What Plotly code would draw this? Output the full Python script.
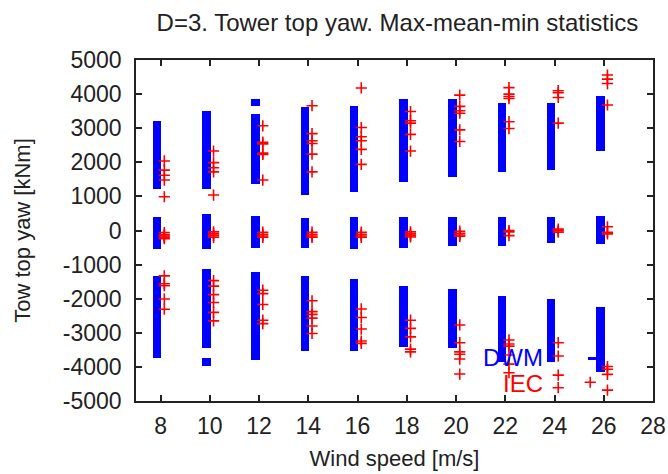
import plotly.graph_objects as go

# ---------------- data ----------------
wind_speeds = [8, 10, 12, 14, 16, 18, 20, 22, 24, 26]

# DWM: vertical extents of the dense point clouds (max, mean, min statistics)
dwm_max_lo = [1210, 1220, 1350, 1030, 1130, 1420, 1570, 1715, 1765, 2330]
dwm_max_hi = [3220, 3490, 3410, 3610, 3640, 3870, 3870, 3725, 3725, 3930]
dwm_mean_lo = [-550, -550, -520, -520, -550, -520, -455, -455, -375, -405]
dwm_mean_hi = [390, 475, 435, 375, 390, 390, 390, 390, 390, 435]
dwm_min_lo = [-3750, -3455, -3800, -3525, -3525, -3410, -3455, -3850, -3855, -4140]
dwm_min_hi = [-1325, -1140, -1225, -1325, -1420, -1620, -1715, -1910, -2010, -2235]
# isolated DWM clusters
dwm_extra_ws = [12, 10, 25.67]
dwm_extra_lo = [3650, -3975, -3800]
dwm_extra_hi = [3870, -3750, -3700]

# IEC: individual max / mean / min values per wind speed
iec_max = {
    8: [2040, 1770, 1620, 1480, 990],
    10: [2330, 1990, 1840, 1720, 1040],
    12: [3070, 2590, 2540, 2270, 2230, 1480],
    14: [3660, 2840, 2630, 2550, 2240, 1720],
    16: [4180, 3020, 2750, 2630, 2380, 1940],
    18: [3490, 3220, 3150, 2820, 2330],
    20: [3970, 3640, 3510, 3440, 2950, 2610],
    22: [4190, 4000, 3930, 3870, 3190, 2990],
    24: [4100, 4040, 3900, 3150],
    26: [4560, 4440, 4310, 3680],
}
iec_mean = {
    8: [-60, -120, -160, -200, -240],
    10: [-40, -100, -150, -200],
    12: [-50, -110, -160, -200],
    14: [-50, -110, -160, -200],
    16: [-50, -110, -160, -200],
    18: [-40, -100, -150, -190],
    20: [-20, -80, -130, -170],
    22: [0, -40, -150],
    24: [40, -10, -50],
    26: [110, -50, -100],
}
iec_min = {
    8: [-1330, -1560, -1620, -2010, -2310],
    10: [-1470, -1630, -1880, -2110, -2400, -2650],
    12: [-1750, -1850, -2170, -2630, -2730],
    14: [-2060, -2380, -2460, -2570, -2800, -3020],
    16: [-2300, -2550, -2890, -3240, -3310],
    18: [-2630, -2870, -3120, -3480, -3560],
    20: [-2770, -3290, -3560, -3630, -3770, -4210],
    22: [-3210, -3330, -3390, -3650, -3920, -4170],
    24: [-3290, -3680, -4240, -4610],
    26: [-3990, -4070, -4220, -4680],
}
iec_extra_ws = [25.45]
iec_extra_val = [-4450]

x_ticks = [8, 10, 12, 14, 16, 18, 20, 22, 24, 26, 28]
y_ticks = [5000, 4000, 3000, 2000, 1000, 0, -1000, -2000, -3000, -4000, -5000]
y_tick_labels = ["5000", "4000", "3000", "2000", "1000", "0",
                 "-1000", "-2000", "-3000", "-4000", "-5000"]

title_text = "D=3. Tower top yaw. Max-mean-min statistics"
x_title = "Wind speed [m/s]"
y_title = "Tow top yaw [kNm]"

# ---------------- styles ----------------
BLUE = "#0000ff"
RED = "#ff0000"
FONT = "Liberation Sans, Arial, sans-serif"
TXT = "#222222"
BAR_OFFSET = -0.31
BAR_WIDTH = 0.34
IEC_SHIFT = 0.15

# ---------------- build ----------------
seg_ws, seg_lo, seg_hi = [], [], []
for lo_list, hi_list in [(dwm_max_lo, dwm_max_hi), (dwm_mean_lo, dwm_mean_hi),
                         (dwm_min_lo, dwm_min_hi)]:
    seg_ws += wind_speeds
    seg_lo += lo_list
    seg_hi += hi_list
seg_ws += dwm_extra_ws
seg_lo += dwm_extra_lo
seg_hi += dwm_extra_hi

iec_x, iec_y = [], []
for d in (iec_max, iec_mean, iec_min):
    for ws in wind_speeds:
        vals = d[ws]
        iec_x += [ws + IEC_SHIFT] * len(vals)
        iec_y += vals
iec_x += iec_extra_ws
iec_y += iec_extra_val

fig = go.Figure()
fig.add_trace(go.Bar(
    x=seg_ws, base=seg_lo, y=[h - l for l, h in zip(seg_lo, seg_hi)],
    width=BAR_WIDTH, offset=BAR_OFFSET,
    marker=dict(color=BLUE, line=dict(width=0)),
    name="DWM", showlegend=False,
))
fig.add_trace(go.Scatter(
    x=iec_x, y=iec_y, mode="markers",
    marker=dict(symbol="cross-thin-open", size=8, color=RED,
                line=dict(color=RED, width=1.6)),
    name="IEC", showlegend=False,
))

axis_common = dict(
    showgrid=False, zeroline=False, showline=True, linecolor="#222222",
    linewidth=1.5, mirror="ticks", ticks="inside", ticklen=6,
    tickwidth=1.5, tickcolor="#222222", automargin=False,
    tickfont=dict(family=FONT, size=23, color=TXT),
)

fig.update_layout(
    width=668, height=474,
    margin=dict(l=136, r=15, t=60, b=73, autoexpand=False),
    paper_bgcolor="white", plot_bgcolor="white",
    barmode="overlay", bargap=0,
    title=dict(text=title_text, x=0.595, xanchor="center", y=0.953,
               yanchor="middle", font=dict(family=FONT, size=24, color=TXT)),
    xaxis=dict(range=[7, 28], tickvals=x_ticks, ticklabelstandoff=4,
               title=dict(text=x_title, font=dict(family=FONT, size=22, color=TXT),
                          standoff=12),
               **axis_common),
    yaxis=dict(range=[-5000, 5000], tickvals=y_ticks, ticktext=y_tick_labels,
               ticklabelstandoff=8,
               title=dict(text=y_title, font=dict(family=FONT, size=22, color=TXT),
                          standoff=26),
               **axis_common),
    annotations=[
        dict(text="DWM", xref="paper", yref="paper", x=0.792, y=0.128,
             xanchor="right", yanchor="middle", showarrow=False,
             font=dict(family=FONT, size=24, color=BLUE)),
        dict(text="IEC", xref="paper", yref="paper", x=0.792, y=0.051,
             xanchor="right", yanchor="middle", showarrow=False,
             font=dict(family=FONT, size=24, color=RED)),
    ],
)

fig.write_html("out.html",
               config={"displayModeBar": False},
               post_script="document.body.style.margin='0';"
                           "document.body.style.overflow='hidden';")
